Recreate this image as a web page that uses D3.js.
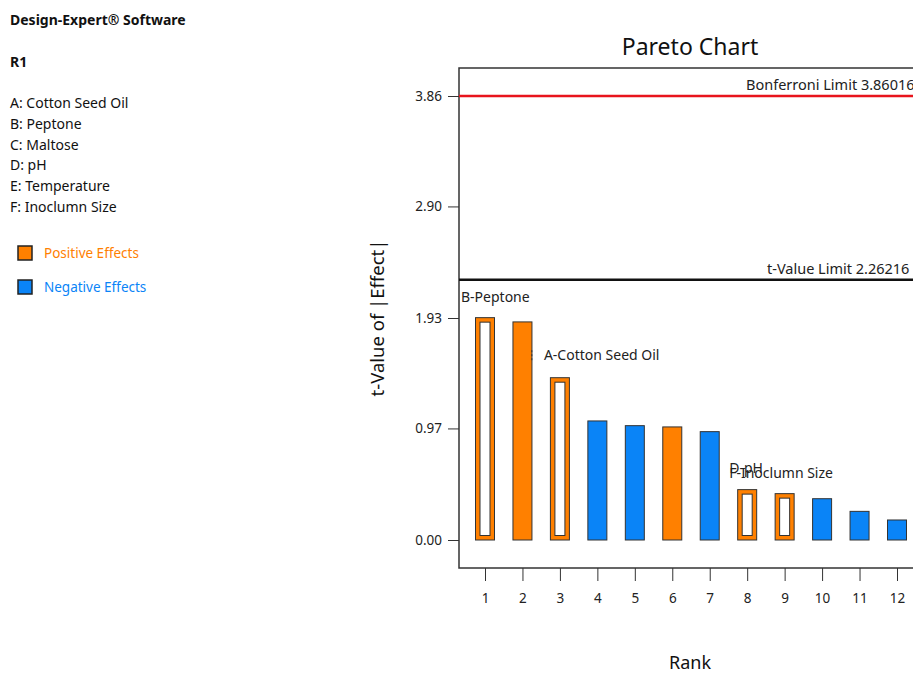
<!DOCTYPE html>
<meta charset="utf-8">
<script src="https://d3js.org/d3.v7.min.js"></script>
<style>
  html, body { margin: 0; padding: 0; background: #fff; }
  body { font-family: 'Noto Sans', 'Open Sans', sans-serif; }
</style>
<body>
<div id="my_dataviz"></div>
<script>

// chart values
var ranks = [1, 2, 3, 4, 5, 6, 7, 8, 9, 10, 11, 12];
var tValues = [1.933, 1.896, 1.411, 1.035, 0.994, 0.983, 0.942, 0.438, 0.403, 0.359, 0.249, 0.174];
var effectSigns = ["pos", "pos", "pos", "neg", "neg", "pos", "neg", "pos", "pos", "neg", "neg", "neg"];
var chosenTerms = [true, false, true, false, false, false, false, true, true, false, false, false];
var yTicks = [0.00, 0.97, 1.93, 2.90, 3.86];
var bonferroniLimit = 3.86016;
var tValueLimit = 2.26216;
var factorNames = ["A: Cotton Seed Oil", "B: Peptone", "C: Maltose", "D: pH", "E: Temperature", "F: Inoclumn Size"];
var termLabels = [
  {rank: 1, text: "B-Peptone"},
  {rank: 3, text: "A-Cotton Seed Oil"},
  {rank: 8, text: "D-pH"},
  {rank: 8, text: "F-Inoclumn Size"}
];

var orange = "#ff8000", blue = "#0a84f7";

var W = 913, H = 674;
var svg = d3.select("#my_dataviz")
  .append("svg")
    .attr("width", W)
    .attr("height", H);

// left side info
var info = svg.append("g").attr("font-size", 14).attr("fill", "#111");
info.append("text").attr("x", 10).attr("y", 25).attr("font-weight", "bold").attr("font-size", 14)
  .text("Design-Expert\u00ae Software");
info.append("text").attr("x", 10).attr("y", 67).attr("font-weight", "bold").attr("font-size", 14)
  .text("R1");
info.selectAll(".factor")
  .data(factorNames)
  .enter().append("text")
    .attr("class", "factor")
    .attr("x", 10)
    .attr("y", function(d, i) { return 108 + i * 20.8; })
    .text(function(d) { return d; });

var legend = [{label: "Positive Effects", color: orange}, {label: "Negative Effects", color: blue}];
var lg = svg.selectAll(".legend").data(legend).enter().append("g")
  .attr("transform", function(d, i) { return "translate(18," + (246 + i * 34) + ")"; });
lg.append("rect").attr("width", 14).attr("height", 14)
  .attr("fill", function(d) { return d.color; })
  .attr("stroke", "#222").attr("stroke-width", 1.5);
lg.append("text").attr("x", 26).attr("y", 12).attr("font-size", 13.5)
  .attr("fill", function(d) { return d.color; })
  .text(function(d) { return d.label; });

// plot area
var plotLeft = 459, plotTop = 68, plotBottom = 568, plotRight = 932;

var x = d3.scaleLinear().domain([1, 12]).range([485, 897]);
var y = d3.scaleLinear().domain([0, 3.86]).range([540, 96]);

var g = svg.append("g");

// frame
g.append("rect")
  .attr("x", plotLeft).attr("y", plotTop)
  .attr("width", plotRight - plotLeft).attr("height", plotBottom - plotTop)
  .attr("fill", "none").attr("stroke", "#333").attr("stroke-width", 1.5);

// Y axis
var yAxis = g.append("g")
  .attr("transform", "translate(" + plotLeft + ",0)")
  .call(d3.axisLeft(y).tickValues(yTicks).tickFormat(d3.format(".2f")).tickSize(11).tickPadding(6));
yAxis.select(".domain").remove();
yAxis.selectAll("line").attr("stroke", "#333");
yAxis.selectAll("text").attr("font-size", 13.5).attr("fill", "#222").attr("font-family", "'Noto Sans', sans-serif");

// X axis
var xAxis = g.append("g")
  .attr("transform", "translate(0," + plotBottom + ")")
  .call(d3.axisBottom(x).tickValues(ranks).tickFormat(d3.format("d")).tickSize(13).tickPadding(12));
xAxis.select(".domain").remove();
xAxis.selectAll("line").attr("stroke", "#333");
xAxis.selectAll("text").attr("font-size", 13.5).attr("fill", "#222").attr("font-family", "'Noto Sans', sans-serif");

// limit lines
g.append("line")
  .attr("x1", plotLeft).attr("x2", plotRight)
  .attr("y1", y(bonferroniLimit)).attr("y2", y(bonferroniLimit))
  .attr("stroke", "#e8141c").attr("stroke-width", 2.5);
g.append("line")
  .attr("x1", plotLeft).attr("x2", plotRight)
  .attr("y1", y(tValueLimit)).attr("y2", y(tValueLimit))
  .attr("stroke", "#111").attr("stroke-width", 2.5);

// limit labels run past the right edge, as in the original screenshot
g.append("text")
  .attr("x", 746).attr("y", y(bonferroniLimit) - 6)
  .attr("font-size", 14.5).attr("fill", "#222")
  .text("Bonferroni Limit " + bonferroniLimit);
g.append("text")
  .attr("x", 767).attr("y", y(tValueLimit) - 6)
  .attr("font-size", 14.5).attr("fill", "#222")
  .text("t-Value Limit " + tValueLimit);

// bars
var barW = 19, inset = 4.5;
var data = ranks.map(function(r, i) {
  return {rank: r, t: tValues[i], sign: effectSigns[i], chosen: chosenTerms[i]};
});

g.selectAll(".bar")
  .data(data)
  .enter().append("rect")
    .attr("class", "bar")
    .attr("x", function(d) { return x(d.rank) - barW / 2; })
    .attr("y", function(d) { return y(d.t); })
    .attr("width", barW)
    .attr("height", function(d) { return y(0) - y(d.t); })
    .attr("fill", function(d) { return d.sign == "pos" ? orange : blue; })
    .attr("stroke", "#333").attr("stroke-width", 1);

g.selectAll(".hole")
  .data(data.filter(function(d) { return d.chosen; }))
  .enter().append("rect")
    .attr("class", "hole")
    .attr("x", function(d) { return x(d.rank) - barW / 2 + inset; })
    .attr("y", function(d) { return y(d.t) + inset; })
    .attr("width", barW - 2 * inset)
    .attr("height", function(d) { return y(0) - y(d.t) - 2 * inset; })
    .attr("fill", "#fff")
    .attr("stroke", "#333").attr("stroke-width", 1);

// term labels
var labelPos = {
  "B-Peptone": [-24, -16],
  "A-Cotton Seed Oil": [-16, -18],
  "D-pH": [-18, -17],
  "F-Inoclumn Size": [-18, -12]
};
g.selectAll(".term")
  .data(termLabels)
  .enter().append("text")
    .attr("class", "term")
    .attr("x", function(d) { return x(d.rank) + labelPos[d.text][0]; })
    .attr("y", function(d) { return y(tValues[d.rank - 1]) + labelPos[d.text][1]; })
    .attr("font-size", 14).attr("fill", "#222")
    .text(function(d) { return d.text; });

// small dotted leader for A
g.append("line")
  .attr("x1", x(2.25)).attr("x2", x(2.25))
  .attr("y1", y(1.65)).attr("y2", y(1.55))
  .attr("stroke", "#333").attr("stroke-dasharray", "2,2");

// titles
svg.append("text")
  .attr("x", 690).attr("y", 55)
  .attr("text-anchor", "middle").attr("font-size", 23).attr("fill", "#111")
  .text("Pareto Chart");
svg.append("text")
  .attr("transform", "translate(384," + ((plotTop + plotBottom) / 2) + ") rotate(-90)")
  .attr("text-anchor", "middle").attr("font-size", 18.5).attr("fill", "#111")
  .text("t-Value of |Effect|");
svg.append("text")
  .attr("x", 690).attr("y", 669)
  .attr("text-anchor", "middle").attr("font-size", 18).attr("fill", "#111")
  .text("Rank");

</script>
</body>
